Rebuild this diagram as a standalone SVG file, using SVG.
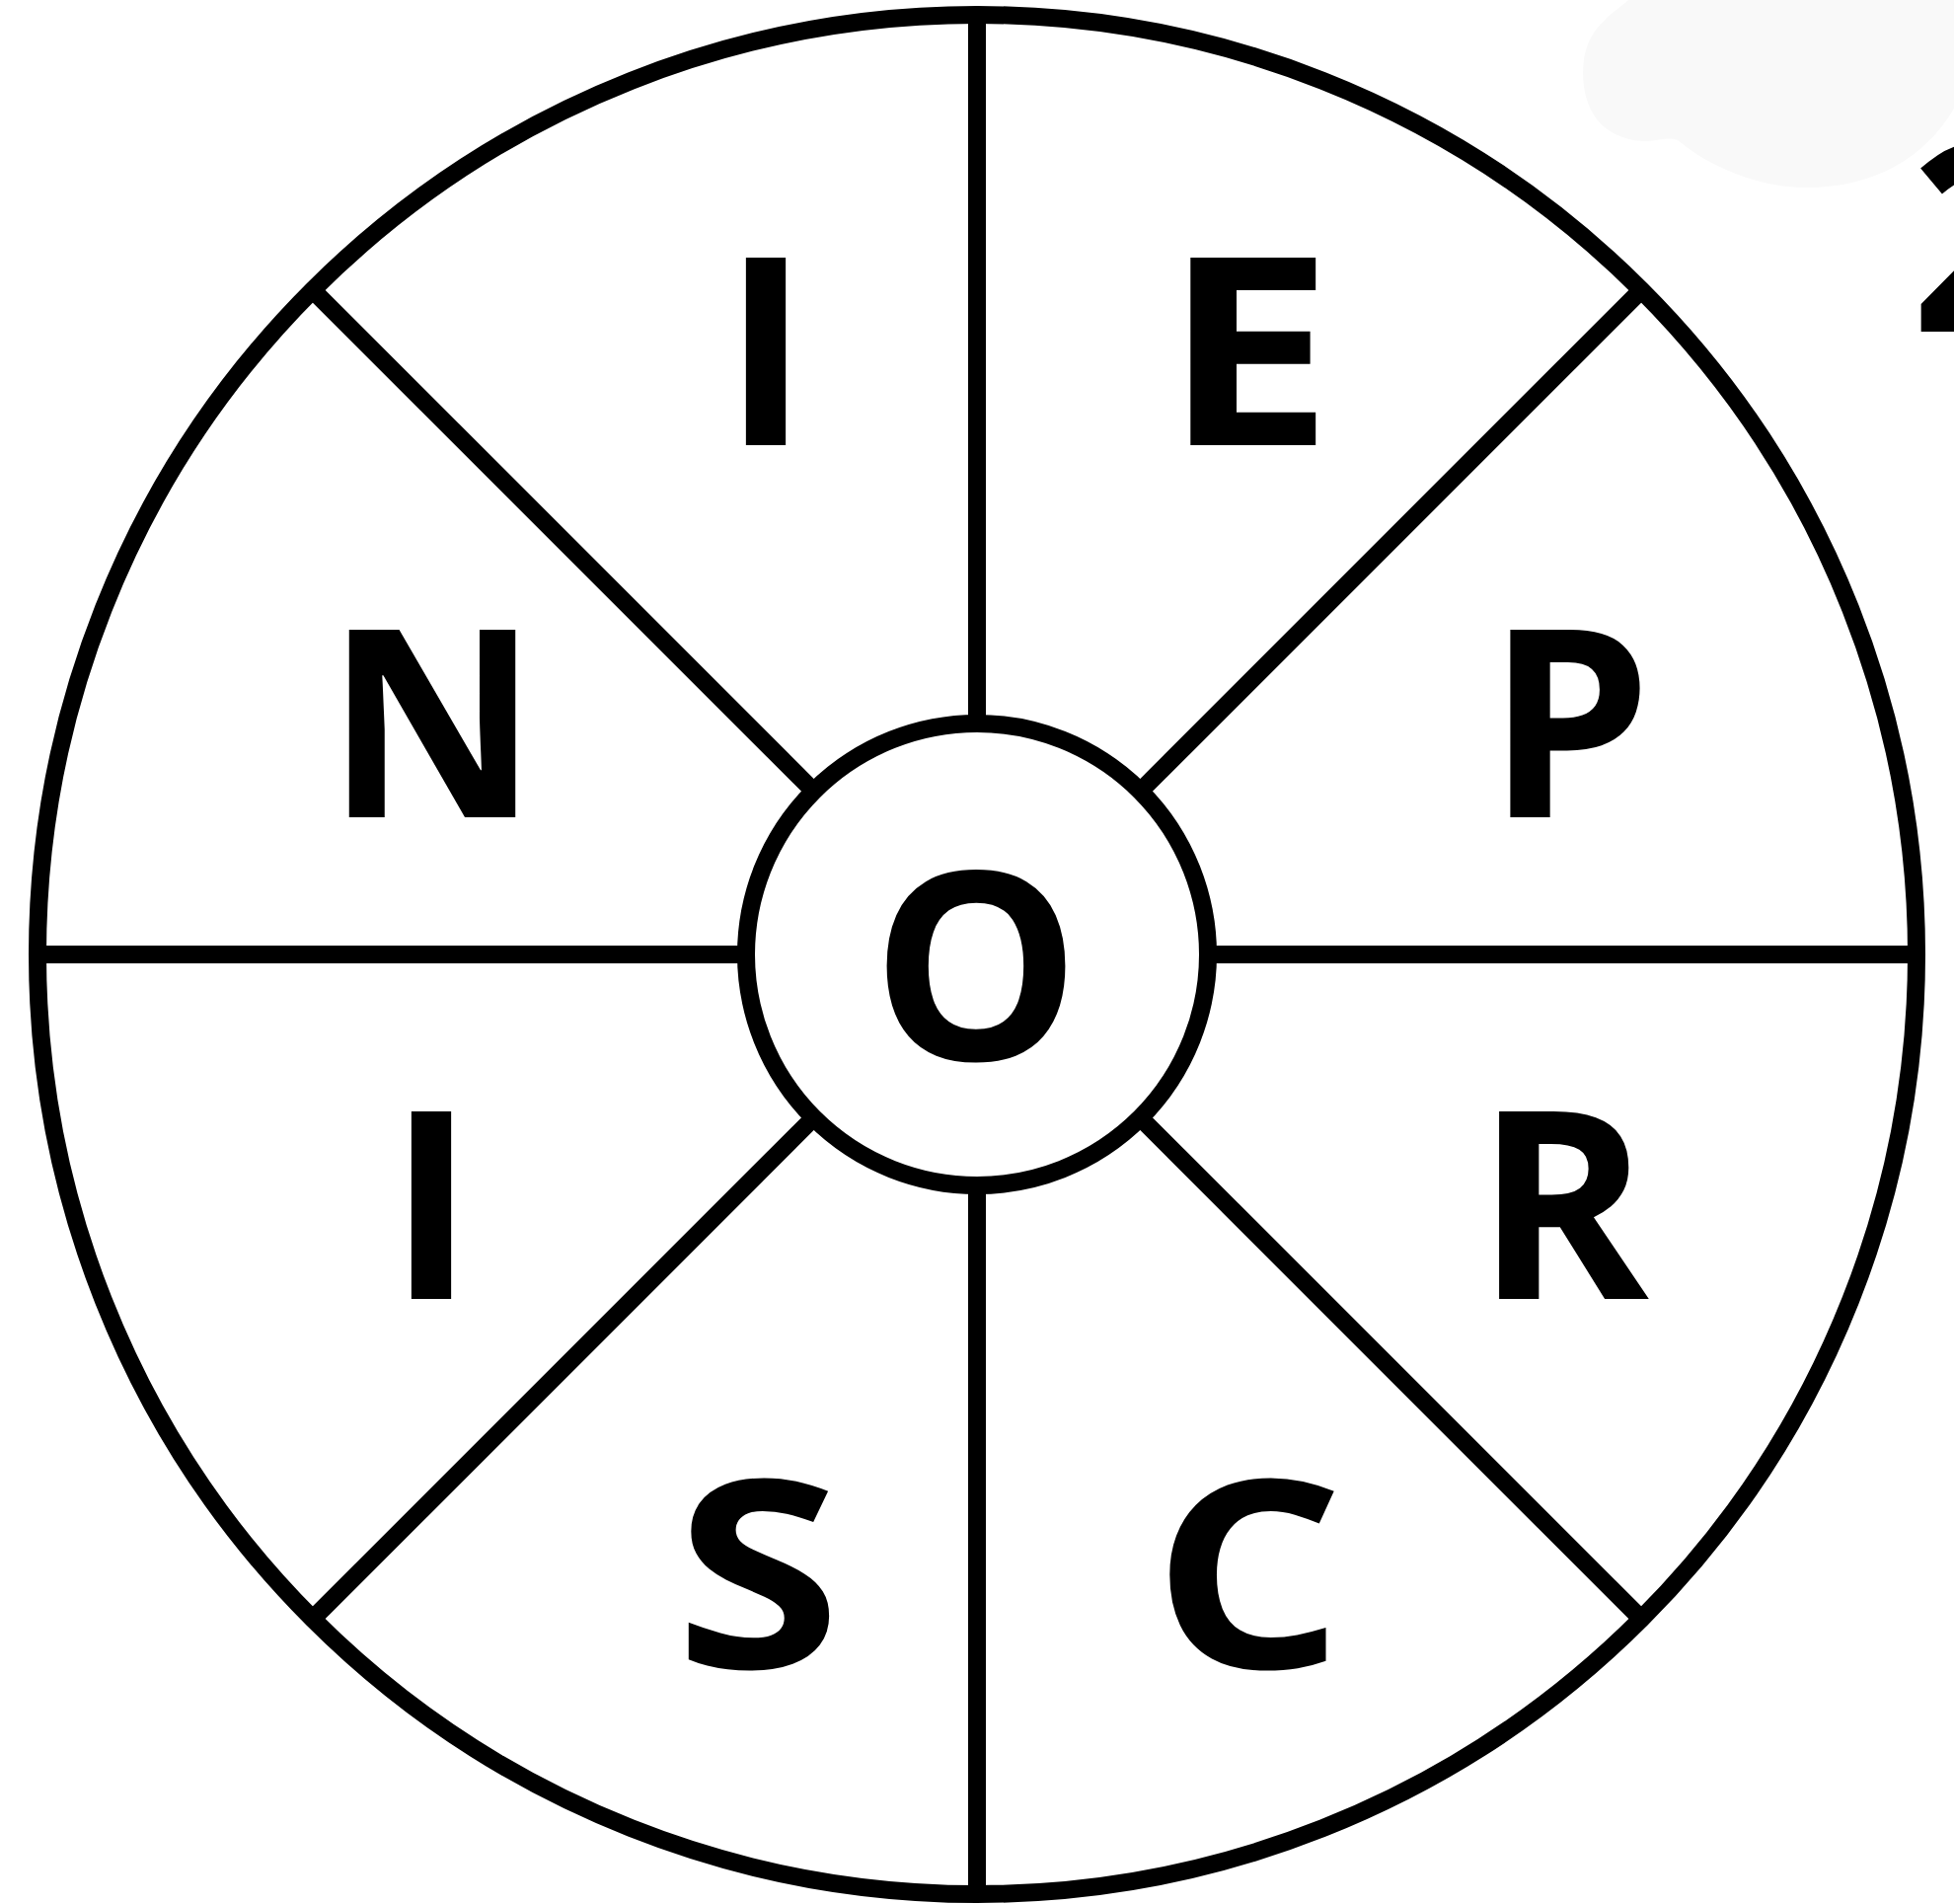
<svg xmlns="http://www.w3.org/2000/svg" width="1980" height="1929" viewBox="0 0 1980 1929">
<style>
.ln{stroke:#000;stroke-width:18;fill:none;stroke-linecap:butt}
.lt{font-family:"Open Sans","Liberation Sans",Arial,sans-serif;font-weight:700;font-size:266px;fill:#000;text-anchor:middle}
</style>
<rect x="0" y="0" width="1980" height="1929" fill="#fff"/>
<path id="blob" d="M1650 0 C1640 10,1610 25,1605 60 C1600 100,1615 140,1665 143 C1680 143,1690 138,1700 142 C1740 175,1790 190,1830 190 C1900 190,1950 160,1980 110 L1980 0 Z" fill="#f9f9f9"/>
<g id="connectors">
<line class="ln" x1="990" y1="733" x2="990" y2="15"/>
<line class="ln" x1="990" y1="1201" x2="990" y2="1919"/>
<line class="ln" x1="756" y1="967" x2="38" y2="967"/>
<line class="ln" x1="1224" y1="967" x2="1942" y2="967"/>
<line class="ln" x1="1155.5" y1="801.5" x2="1663.2" y2="293.8"/>
<line class="ln" x1="824.5" y1="801.5" x2="316.8" y2="293.8"/>
<line class="ln" x1="1155.5" y1="1132.5" x2="1663.2" y2="1640.2"/>
<line class="ln" x1="824.5" y1="1132.5" x2="316.8" y2="1640.2"/>
</g>
<g id="wheel"><circle class="ln" cx="990" cy="967" r="952"/></g>
<g id="hub"><circle class="ln" cx="990" cy="967" r="234"/><text class="lt" x="989" y="1074">O</text></g>
<g id="seg-i-top"><text class="lt" x="776" y="451">I</text></g>
<g id="seg-e"><text class="lt" transform="translate(1265 0) scale(1.16 1)" x="0" y="451">E</text></g>
<g id="seg-n"><text class="lt" x="438" y="828">N</text></g>
<g id="seg-p"><text class="lt" x="1590" y="828">P</text></g>
<g id="seg-i-left"><text class="lt" x="437" y="1316">I</text></g>
<g id="seg-r"><text class="lt" x="1583" y="1316">R</text></g>
<g id="seg-s"><text class="lt" transform="translate(768 0) scale(1.15 1)" x="0" y="1690">S</text></g>
<g id="seg-c"><text class="lt" transform="translate(1265 0) scale(1.15 1)" x="0" y="1690">C</text></g>
<g id="num"><text class="lt" x="1936" y="336" style="text-anchor:start">2</text></g>
</svg>
